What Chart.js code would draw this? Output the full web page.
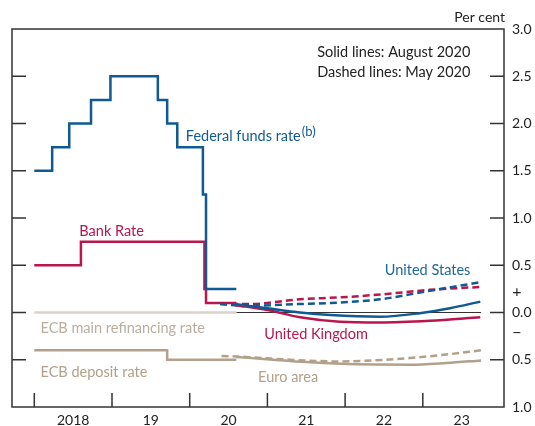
<!DOCTYPE html>
<html>
<head>
<meta charset="utf-8">
<script src="https://cdn.jsdelivr.net/npm/chart.js@4"></script>
<style>
  html, body { margin: 0; padding: 0; background: #fff; }
  #wrap { width: 535px; height: 426px; position: relative; }
</style>
</head>
<body>
<div id="wrap"><canvas id="rateChart"></canvas></div>
<script>
const yearLabels = ["2018", "19", "20", "21", "22", "23"];
const yearStarts = [2018, 2019, 2020, 2021, 2022, 2023];

// policy rates: change dates (decimal years) and the rate from that date
const fedDates = [2018.0, 2018.23, 2018.45, 2018.73, 2018.98, 2019.59, 2019.71, 2019.84, 2020.17, 2020.21, 2020.6];
const fedRates = [1.5, 1.75, 2.0, 2.25, 2.5, 2.25, 2.0, 1.75, 1.25, 0.25, 0.25];
const bankDates = [2018.0, 2018.6, 2020.19, 2020.21, 2020.6];
const bankRates = [0.5, 0.75, 0.25, 0.1, 0.1];
const ecbRefiDates = [2018.0, 2020.6];
const ecbRefiRates = [0, 0];
const ecbDepoDates = [2018.0, 2019.71, 2020.6];
const ecbDepoRates = [-0.4, -0.5, -0.5];

// market forward curves
const usAugDates = [2020.58, 2021.0, 2021.42, 2021.81, 2022.45, 2022.96, 2023.35, 2023.74];
const usAug = [0.09, 0.045, 0.0, -0.027, -0.045, -0.008, 0.045, 0.115];
const usMayDates = [2020.39, 2020.69, 2021.42, 2021.81, 2022.45, 2023.09, 2023.74];
const usMay = [0.09, 0.07, 0.09, 0.10, 0.14, 0.23, 0.32];
const ukAugDates = [2020.58, 2021.0, 2021.42, 2021.93, 2022.45, 2023.09, 2023.74];
const ukAug = [0.08, 0.026, -0.05, -0.097, -0.105, -0.087, -0.05];
const ukMayDates = [2020.39, 2020.78, 2021.42, 2021.93, 2022.45, 2023.09, 2023.74];
const ukMay = [0.09, 0.09, 0.14, 0.16, 0.19, 0.24, 0.27];
const euroAugDates = [2020.6, 2021.07, 2021.5, 2021.95, 2022.4, 2022.83, 2023.3, 2023.75];
const euroAug = [-0.47, -0.50, -0.525, -0.542, -0.55, -0.553, -0.535, -0.507];
const euroMayDates = [2020.41, 2020.72, 2021.3, 2021.91, 2022.4, 2022.83, 2023.3, 2023.75];
const euroMay = [-0.46, -0.47, -0.50, -0.518, -0.505, -0.482, -0.445, -0.40];
const zeroDates = [2020.6, 2023.75];
const zeroRates = [0, 0];

const blue = "#0f5a94";
const red = "#b8164c";
const beige = "#b3a08a";
const lightBeige = "#dcd3c8";
const font = "Lato";

const pts = (xs, ys) => xs.map((x, i) => ({ x, y: ys[i] }));

function stepSet(xs, ys, color, width) {
  return { data: pts(xs, ys), borderColor: color, borderWidth: width, stepped: true, pointRadius: 0 };
}
function curveSet(xs, ys, color, dashed) {
  return {
    data: pts(xs, ys), borderColor: color, borderWidth: 2.5, pointRadius: 0,
    cubicInterpolationMode: "monotone", borderDash: dashed ? [7, 4] : []
  };
}

const notes = [
  { text: "Federal funds rate", x: 2019.95, y: 1.86, color: blue, sup: "(b)" },
  { text: "Bank Rate", x: 2018.58, y: 0.86, color: red },
  { text: "United States", x: 2022.51, y: 0.45, color: "#1d679f" },
  { text: "United Kingdom", x: 2020.96, y: -0.235, color: red },
  { text: "ECB main refinancing rate", x: 2018.08, y: -0.17, color: "#bcae9e" },
  { text: "ECB deposit rate", x: 2018.08, y: -0.63, color: beige },
  { text: "Euro area", x: 2020.88, y: -0.69, color: beige },
  { text: "Solid lines: August 2020", x: 2021.64, y: 2.75, color: "#222" },
  { text: "Dashed lines: May 2020", x: 2021.64, y: 2.54, color: "#222" }
];

const frame = {
  id: "frame",
  beforeDatasetsDraw(chart) {
    const { ctx, chartArea: a, scales: { x, y } } = chart;
    ctx.save();
    ctx.strokeStyle = "#333";
    ctx.lineWidth = 1.5;
    ctx.strokeRect(a.left, a.top, a.width, a.height);
    ctx.beginPath();
    for (let v = -0.5; v < 3; v += 0.5) {
      const py = y.getPixelForValue(v);
      ctx.moveTo(a.left, py); ctx.lineTo(a.left + 14, py);
      ctx.moveTo(a.right - 14, py); ctx.lineTo(a.right, py);
    }
    yearStarts.forEach((yr) => {
      const px = x.getPixelForValue(yr);
      ctx.moveTo(px, a.bottom); ctx.lineTo(px, a.bottom - 14);
    });
    ctx.stroke();
    ctx.restore();
  },
  afterDatasetsDraw(chart) {
    const { ctx, chartArea: a, scales: { x, y } } = chart;
    ctx.save();
    ctx.textBaseline = "middle";
    notes.forEach((n) => {
      ctx.font = `14.5px ${font}`;
      ctx.fillStyle = n.color;
      ctx.textAlign = "left";
      const px = x.getPixelForValue(n.x);
      const py = y.getPixelForValue(n.y);
      ctx.fillText(n.text, px, py);
      if (n.sup) {
        const w = ctx.measureText(n.text).width;
        ctx.font = `13px ${font}`;
        ctx.fillText(n.sup, px + w + 1, py - 5);
      }
    });
    ctx.fillStyle = "#222";
    ctx.font = `14px ${font}`;
    ctx.textAlign = "right";
    ctx.fillText("Per cent", a.right + 1, a.top - 12);
    ctx.textAlign = "center";
    ctx.font = `16px ${font}`;
    ctx.fillText("+", a.right + 13, y.getPixelForValue(0.22));
    ctx.fillText("\u2212", a.right + 13, y.getPixelForValue(-0.21));
    ctx.restore();
  }
};

new Chart(document.getElementById("rateChart"), {
  type: "line",
  data: {
    datasets: [
      curveSet(usAugDates, usAug, blue, false),
      curveSet(ukAugDates, ukAug, red, false),
      curveSet(usMayDates, usMay, blue, true),
      curveSet(ukMayDates, ukMay, red, true),
      curveSet(euroAugDates, euroAug, beige, false),
      curveSet(euroMayDates, euroMay, beige, true),
      stepSet(fedDates, fedRates, blue, 2.5),
      stepSet(bankDates, bankRates, red, 2.5),
      stepSet(ecbDepoDates, ecbDepoRates, beige, 2.5),
      stepSet(ecbRefiDates, ecbRefiRates, lightBeige, 2.5),
      stepSet(zeroDates, zeroRates, "#333", 1)
    ]
  },
  options: {
    responsive: true,
    maintainAspectRatio: false,
    animation: false,
    layout: { padding: { top: 29, left: 12, right: 0, bottom: 0 } },
    plugins: { legend: { display: false }, tooltip: { enabled: false } },
    scales: {
      x: {
        type: "linear",
        min: 2017.713,
        max: 2024.045,
        afterBuildTicks: (scale) => { scale.ticks = yearStarts.map((yr) => ({ value: yr + 0.5 })); },
        afterFit: (scale) => { scale.height = 19; },
        grid: { display: false, drawTicks: false },
        border: { display: false },
        ticks: {
          padding: 5,
          maxRotation: 0,
          autoSkip: false,
          color: "#222",
          font: { family: font, size: 14 },
          callback: (value) => yearLabels[yearStarts.indexOf(Math.round(value - 0.5))]
        }
      },
      y: {
        position: "right",
        min: -1,
        max: 3,
        afterFit: (scale) => { scale.width = 31; },
        grid: { display: false, drawTicks: false },
        border: { display: false },
        ticks: {
          stepSize: 0.5,
          padding: 8,
          color: "#222",
          font: { family: font, size: 14 },
          callback: (value) => Math.abs(value).toFixed(1)
        }
      }
    }
  },
  plugins: [frame]
});
</script>
</body>
</html>
